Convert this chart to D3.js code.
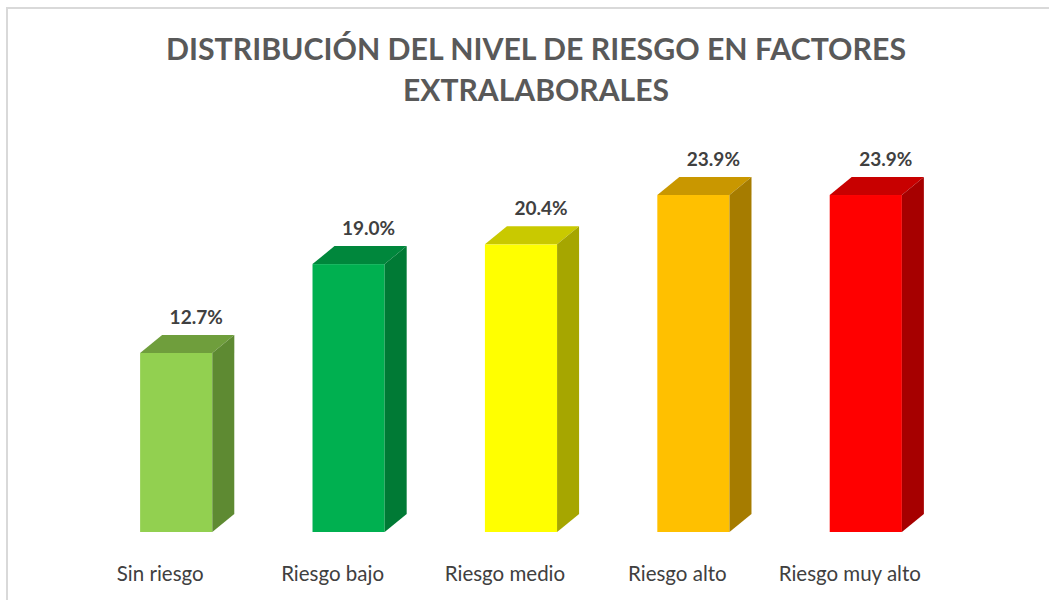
<!DOCTYPE html>
<html>
<head>
<meta charset="utf-8">
<script src="https://cdn.jsdelivr.net/npm/d3@7"></script>
<style>
  body { margin: 0; background: #fff; }
  svg { display: block; font-family: Lato, "Open Sans", sans-serif; }
</style>
</head>
<body>
<svg id="chart"></svg>
<script>
// data
const categories = ["Sin riesgo", "Riesgo bajo", "Riesgo medio", "Riesgo alto", "Riesgo muy alto"];
const values = [12.7, 19.0, 20.4, 23.9, 23.9];
const frontColors = ["#92d050", "#00b050", "#ffff00", "#ffc000", "#ff0000"];
const topColors = ["#6f9e3c", "#00873c", "#c9c900", "#c99700", "#c80000"];
const sideColors = ["#5e8a32", "#007a35", "#a6a600", "#a67c00", "#a60000"];
const titleLines = ["DISTRIBUCIÓN DEL NIVEL DE RIESGO EN FACTORES", "EXTRALABORALES"];

const width = 1049, height = 600;
const depthX = 22, depthY = 18;

const svg = d3.select("#chart")
    .attr("width", width)
    .attr("height", height);

// light frame of the chart area
svg.append("path")
    .attr("d", `M7,${height} V8 H${width}`)
    .attr("fill", "none")
    .attr("stroke", "#d9d9d9")
    .attr("stroke-width", 2);

svg.selectAll("text.title")
    .data(titleLines)
    .join("text")
    .attr("class", "title")
    .attr("x", 536)
    .attr("y", (d, i) => 60 + i * 41)
    .attr("text-anchor", "middle")
    .attr("font-size", 31)
    .attr("font-weight", "bold")
    .attr("fill", "#595959")
    .attr("textLength", (d, i) => i === 0 ? 740 : 266)
    .attr("lengthAdjust", "spacingAndGlyphs")
    .text(d => d);

const x = d3.scaleBand()
    .domain(categories)
    .range([90, 952])
    .paddingInner(0.5814)
    .paddingOuter(0.2907);

const y = d3.scaleLinear()
    .domain([0, 25])
    .range([532, 532 - 25 * 14.1]);

const data = categories.map((c, i) => ({cat: c, v: values[i], i: i}));

const bars = svg.selectAll("g.bar")
    .data(data)
    .join("g")
    .attr("class", "bar");

// front face
bars.append("rect")
    .attr("x", d => x(d.cat))
    .attr("y", d => y(d.v))
    .attr("width", x.bandwidth())
    .attr("height", d => y(0) - y(d.v))
    .attr("fill", d => frontColors[d.i]);

// top face
bars.append("path")
    .attr("d", d => {
        const x0 = x(d.cat), x1 = x0 + x.bandwidth(), yt = y(d.v);
        return `M${x0},${yt} L${x0 + depthX},${yt - depthY} L${x1 + depthX},${yt - depthY} L${x1},${yt} Z`;
    })
    .attr("fill", d => topColors[d.i]);

// side face
bars.append("path")
    .attr("d", d => {
        const x1 = x(d.cat) + x.bandwidth(), yt = y(d.v), yb = y(0);
        return `M${x1},${yt} L${x1 + depthX},${yt - depthY} L${x1 + depthX},${yb - depthY} L${x1},${yb} Z`;
    })
    .attr("fill", d => sideColors[d.i]);

// value labels
bars.append("text")
    .attr("x", d => x(d.cat) + x.bandwidth() / 2 + depthX - 2)
    .attr("y", d => y(d.v) - depthY - 11)
    .attr("text-anchor", "middle")
    .attr("font-size", 19)
    .attr("font-weight", "bold")
    .attr("fill", "#404040")
    .text(d => d.v.toFixed(1) + "%");

// category labels
svg.selectAll("text.cat")
    .data(categories)
    .join("text")
    .attr("class", "cat")
    .attr("x", d => x(d) + x.bandwidth() / 2 - 16)
    .attr("y", 581)
    .attr("text-anchor", "middle")
    .attr("font-size", 20.5)
    .attr("fill", "#404040")
    .text(d => d);
</script>
</body>
</html>
